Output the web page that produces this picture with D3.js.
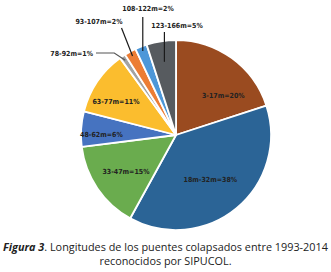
<!DOCTYPE html>
<html lang="es">
<head>
<meta charset="UTF-8">
<title>Figura 3 - Longitudes de puentes colapsados</title>
<script src="https://d3js.org/d3.v7.min.js"></script>
<style>
  body { margin: 0; background: #fff; }
  .lbl { font-family: "DejaVu Sans Condensed", "DejaVu Sans", sans-serif; font-weight: bold; font-size: 7px; fill: #222; }
  .cap { font-family: "Open Sans", sans-serif; font-size: 10.85px; fill: #222; }
</style>
</head>
<body>
<div id="chart"></div>
<script>
// data
const ranges = ["3-17m", "18m-32m", "33-47m", "48-62m", "63-77m", "78-92m", "93-107m", "108-122m", "123-166m"];
const percents = [20, 38, 15, 6, 11, 1, 2, 2, 5];
const colors = ["#9a4b20", "#2b6496", "#6aac4e", "#4673c0", "#fbbd2e", "#a3a3a3", "#ec7d34", "#4d97d8", "#575b5f"];

const width = 331, height = 272;
const cx = 176, cy = 135, radius = 95;

// inside labels: nudge from the label ring
const insideNudge = {"3-17m": [11, 11], "18m-32m": [-5, -3], "33-47m": [1, 2], "48-62m": [-13, 3], "63-77m": [-9, 1]};
// outside labels: leader start ring factor, label anchor, text pos
const outside = {
  "78-92m":   {k: 0.95, path: (s) => [s, [s[0] - 11, 53], [96, 53]], tx: 93, ty: 56, anchor: "end"},
  "93-107m":  {k: 0.95, path: (s) => [s, [s[0] - 11, 28]], tx: 99, ty: 24, anchor: "middle"},
  "108-122m": {k: 0.95, path: (s) => [s, [s[0], 17]], tx: 148, ty: 11, anchor: "middle"},
  "123-166m": {k: 0.78, path: (s) => [s, [s[0], 32]], tx: 177, ty: 28, anchor: "middle"}
};

const data = ranges.map((r, i) => ({range: r, value: percents[i], color: colors[i]}));

const svg = d3.select("#chart").append("svg")
  .attr("width", width)
  .attr("height", height);

const pie = d3.pie().sort(null).value(d => d.value);
const arcs = pie(data);
const arc = d3.arc().innerRadius(0).outerRadius(radius);

const g = svg.append("g").attr("transform", `translate(${cx},${cy})`);

g.selectAll("path.slice")
  .data(arcs)
  .join("path")
  .attr("class", "slice")
  .attr("d", arc)
  .attr("fill", d => d.data.color)
  .attr("stroke", "#fff")
  .attr("stroke-width", 1.8)
  .attr("stroke-linejoin", "round");

const labelArc = d3.arc().innerRadius(radius * 0.65).outerRadius(radius * 0.65);

g.selectAll("text.in")
  .data(arcs.filter(d => insideNudge[d.data.range]))
  .join("text")
  .attr("class", "lbl")
  .attr("text-anchor", "middle")
  .attr("dy", "0.35em")
  .attr("transform", d => {
    const [x, y] = labelArc.centroid(d);
    const [nx, ny] = insideNudge[d.data.range];
    return `translate(${x + nx},${y + ny})`;
  })
  .text(d => `${d.data.range}=${d.data.value}%`);

// leaders for the thin slices
const outArcs = arcs.filter(d => outside[d.data.range]);
const line = d3.line();

svg.selectAll("path.leader")
  .data(outArcs)
  .join("path")
  .attr("class", "leader")
  .attr("fill", "none")
  .attr("stroke", d => d.data.range === "78-92m" ? "#555" : "#1a1a1a")
  .attr("stroke-width", 1.2)
  .attr("d", d => {
    const o = outside[d.data.range];
    const ring = d3.arc().innerRadius(radius * o.k).outerRadius(radius * o.k);
    const [x, y] = ring.centroid(d);
    return line(o.path([cx + x, cy + y]));
  });

svg.selectAll("text.out")
  .data(outArcs)
  .join("text")
  .attr("class", "lbl")
  .attr("x", d => outside[d.data.range].tx)
  .attr("y", d => outside[d.data.range].ty)
  .attr("text-anchor", d => outside[d.data.range].anchor)
  .text(d => `${d.data.range}=${d.data.value}%`);

// caption
const cap = svg.append("text").attr("class", "cap").attr("text-anchor", "middle");
const l1 = cap.append("tspan").attr("x", width / 2).attr("y", 251);
l1.append("tspan").attr("font-weight", "bold").attr("font-style", "italic").text("Figura 3");
l1.append("tspan").text(". Longitudes de los puentes colapsados entre 1993-2014");
cap.append("tspan").attr("x", width / 2).attr("y", 265).text("reconocidos por SIPUCOL.");
</script>
</body>
</html>
